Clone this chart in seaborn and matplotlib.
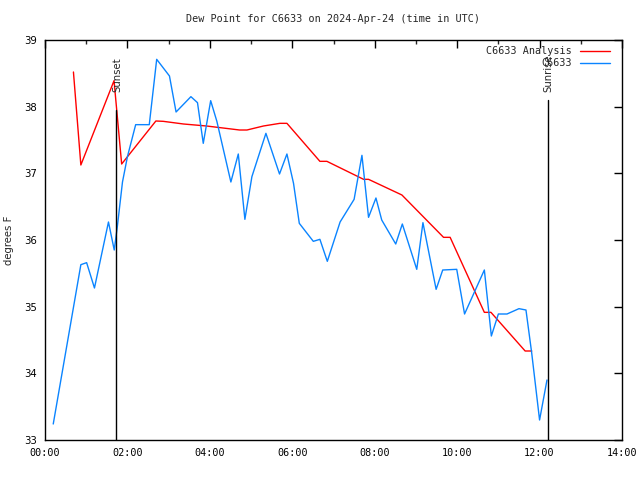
import matplotlib
matplotlib.use("Agg")
import matplotlib.pyplot as plt
from matplotlib.ticker import MultipleLocator, FuncFormatter
import seaborn as sns
import pandas as pd

# Data (time in hours UTC)
obs_t = [0.20, 0.87, 1.01, 1.20, 1.54, 1.68, 1.755, 1.88, 2.0, 2.20, 2.53, 2.71, 3.02, 3.18,
         3.54, 3.70, 3.84, 4.02, 4.17, 4.51, 4.69, 4.85, 5.02, 5.36, 5.69, 5.87, 6.03, 6.17,
         6.51, 6.67, 6.85, 7.16, 7.50, 7.69, 7.85, 8.03, 8.17, 8.51, 8.67, 9.02, 9.17, 9.49,
         9.65, 9.99, 10.18, 10.66, 10.83, 11.0, 11.21, 11.5, 11.67, 11.81, 12.0, 12.18]
obs_v = [33.24, 35.63, 35.66, 35.28, 36.27, 35.85, 36.2, 36.87, 37.25, 37.73, 37.73, 38.71, 38.46, 37.92,
         38.15, 38.06, 37.45, 38.09, 37.78, 36.87, 37.29, 36.31, 36.95, 37.6, 36.99, 37.29, 36.85, 36.25,
         35.98, 36.01, 35.68, 36.27, 36.61, 37.27, 36.34, 36.63, 36.3, 35.94, 36.24, 35.56, 36.26, 35.26,
         35.55, 35.56, 34.89, 35.55, 34.56, 34.89, 34.89, 34.97, 34.95, 34.30, 33.3, 33.9]

ana_t = [0.69, 0.87, 1.675, 1.86, 2.69, 2.87, 3.36, 3.92, 4.72, 4.9, 5.3, 5.7, 5.87, 6.67, 6.84,
         7.73, 7.85, 8.66, 9.67, 9.83, 10.66, 10.82, 11.65, 11.81]
ana_v = [38.52, 37.125, 38.39, 37.14, 37.785, 37.78, 37.74, 37.71, 37.65, 37.65, 37.71, 37.75, 37.75, 37.18, 37.18,
         36.91, 36.91, 36.675, 36.04, 36.04, 34.915, 34.915, 34.335, 34.335]

sunset_t = 1.72
sunrise_t = 12.21
title = "Dew Point for C6633 on 2024-Apr-24 (time in UTC)"

sns.set_style("white")
plt.rcParams['font.family'] = ['DejaVu Sans Mono']

fig = plt.figure(figsize=(6.4, 4.8), dpi=100)
ax = fig.add_axes([45/640, 40/480, 577/640, 400/480])

df_a = pd.DataFrame({"t": ana_t, "v": ana_v})
df_o = pd.DataFrame({"t": obs_t, "v": obs_v})
sns.lineplot(data=df_a, x="t", y="v", ax=ax, color="#ff0000", lw=1, label="C6633 Analysis", sort=False)
sns.lineplot(data=df_o, x="t", y="v", ax=ax, color="#0a84ff", lw=1, label="C6633", sort=False)

ax.plot([sunset_t, sunset_t], [33, 37.95], color="black", lw=1)
ax.plot([sunrise_t, sunrise_t], [33, 38.1], color="black", lw=1)
ax.text(sunset_t + 0.03, 38.22, "Sunset", rotation=90, ha="center", va="bottom", fontsize=7.3, family="DejaVu Sans")
ax.text(sunrise_t, 38.22, "Sunrise", rotation=90, ha="center", va="bottom", fontsize=7.3, family="DejaVu Sans")

ax.set_xlim(0, 14)
ax.set_ylim(33, 39)
ax.xaxis.set_major_locator(MultipleLocator(2))
ax.xaxis.set_minor_locator(MultipleLocator(1))
ax.yaxis.set_major_locator(MultipleLocator(1))
ax.xaxis.set_major_formatter(FuncFormatter(lambda x, p: "%02d:00" % int(round(x))))
ax.yaxis.set_major_formatter(FuncFormatter(lambda y, p: "%d" % int(round(y))))
ax.tick_params(which="major", direction="in", length=6, width=1, top=True, right=True,
               labelsize=7.3, colors="black", pad=6)
ax.tick_params(which="minor", direction="in", length=3, width=1, top=True, right=True)
for lab in ax.get_yticklabels():
    lab.set_family("DejaVu Sans")
for s in ax.spines.values():
    s.set_color("black")
    s.set_linewidth(1)

ax.set_xlabel("")
ax.set_ylabel("degrees F", fontsize=7.3, family="DejaVu Sans", labelpad=7)
ax.set_title(title, fontsize=7.3, pad=13)

leg = ax.legend(loc="upper right", frameon=False, markerfirst=False, fontsize=7.3,
                handlelength=3.0, handletextpad=0.8, labelspacing=0.2,
                borderaxespad=0.2, bbox_to_anchor=(0.99, 1.0))

fig.savefig("out.png", dpi=100)
